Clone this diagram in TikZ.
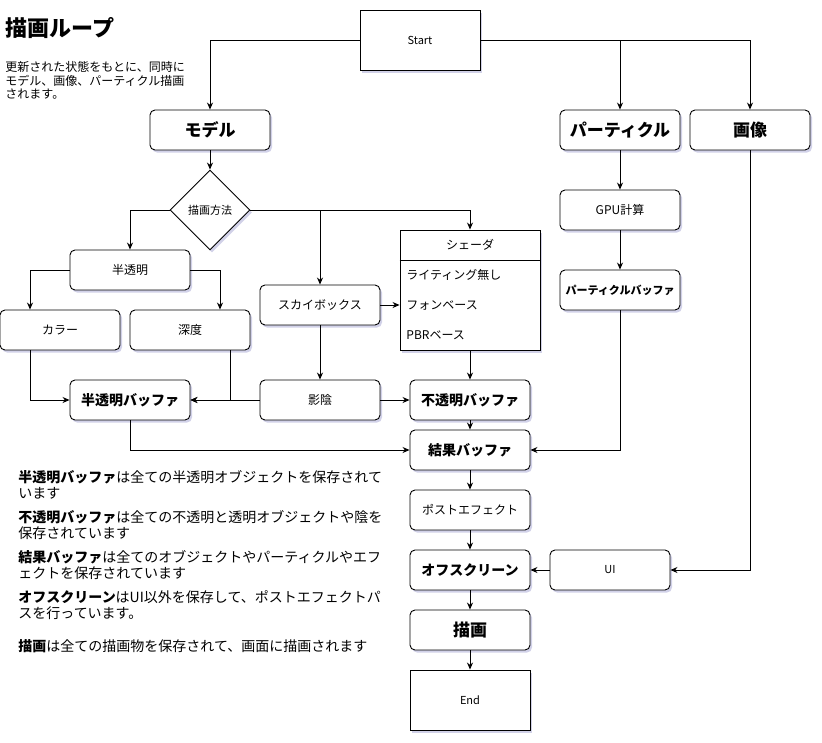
\documentclass[tikz,border=0pt]{standalone}
\usepackage{fontspec}
\setmainfont{Noto Sans CJK JP}
\usetikzlibrary{shapes.geometric,shadows,arrows.meta}

\begin{document}
\begin{tikzpicture}[
      x=1pt, y=-1pt, line width=0.9pt,
      >={Stealth[length=7pt,width=6pt]},
      shade/.style={drop shadow={opacity=0.3, fill=black!50!blue!60, shadow xshift=2pt, shadow yshift=-2.5pt}},
      box/.style={draw, rounded corners=5pt, fill=white, shade, align=center, minimum width=120pt, minimum height=40pt, inner sep=2pt, font=\fontsize{12}{14}\selectfont},
      bbox/.style={box, font=\fontsize{#1}{18}\selectfont\bfseries},
      bbox/.default=14,
      term/.style={draw, fill=white, shade, minimum width=120pt, minimum height=60pt, font=\fontsize{11}{13}\selectfont},
      item/.style={anchor=west, inner sep=0pt, font=\fontsize{12}{14}\selectfont},
      note/.style={anchor=north west, align=left, inner sep=0pt, font=\fontsize{14}{16}\selectfont}
    ]
      \useasboundingbox (0,0) rectangle (822,742);

      % title and notes
      \node[anchor=west, inner sep=0pt, font=\fontsize{22}{24}\selectfont\bfseries] (title) at (5,28) {描画ループ};
      \node[anchor=north west, align=left, inner sep=0pt, font=\fontsize{12}{13.5}\selectfont] (intro) at (5,61) {更新された状態をもとに、同時に\\モデル、画像、パーティクル描画\\されます。};

      \node[note] (n1) at (18,470) {\textbf{半透明バッファ}は全ての半透明オブジェクトを保存されて\\います};
      \node[note] (n2) at (18,510) {\textbf{不透明バッファ}は全ての不透明と透明オブジェクトや陰を\\保存されています};
      \node[note] (n3) at (18,550) {\textbf{結果バッファ}は全てのオブジェクトやパーティクルやエフ\\ェクトを保存されています};
      \node[note] (n4) at (18,590) {\textbf{オフスクリーン}はUI以外を保存して、ポストエフェクトパ\\スを行っています。};
      \node[note] (n5) at (18,639) {\textbf{描画}は全ての描画物を保存されて、画面に描画されます};

      % nodes
      \node[term] (start) at (420,40) {Start};
      \node[bbox=17] (model) at (210,130) {モデル};
      \node[bbox=17] (ptc) at (620,130) {パーティクル};
      \node[bbox=17] (img) at (750,130) {画像};

      \node[draw, diamond, fill=white, shade, minimum width=80pt, minimum height=80pt, inner sep=0pt, font=\fontsize{11}{13}\selectfont] (meth) at (210,210) {描画方法};
      \node[box] (semi) at (130,270) {半透明};
      \node[box] (color) at (60,330) {カラー};
      \node[box] (depth) at (190,330) {深度};
      \node[box] (sky) at (320,305) {スカイボックス};
      \node[box] (shadow) at (320,400) {影陰};
      \node[bbox] (tbuf) at (130,400) {半透明バッファ};

      \node[draw, fill=white, shade, minimum width=140pt, minimum height=120pt] (shader) at (470,290) {};
      \node[font=\fontsize{12}{14}\selectfont] (shhead) at (470,245) {シェーダ};
      \draw (shader.west |- 0,260) -- (shader.east |- 0,260);
      \node[item] (sh1) at (406,275) {ライティング無し};
      \node[item] (sh2) at (406,305) {フォンベース};
      \node[item] (sh3) at (406,335) {PBRベース};

      \node[bbox] (obuf) at (470,400) {不透明バッファ};
      \node[bbox] (res) at (470,450) {結果バッファ};
      \node[box] (post) at (470,510) {ポストエフェクト};
      \node[bbox] (off) at (470,570) {オフスクリーン};
      \node[bbox=17] (draw) at (470,630) {描画};
      \node[term] (end) at (470,700) {End};

      \node[box] (gpu) at (620,210) {GPU計算};
      \node[bbox=11] (pbuf) at (620,290) {パーティクルバッファ};
      \node[box, font=\fontsize{11}{13}\selectfont] (ui) at (610,570) {UI};

      % connectors
      \draw[->] (start.west) -| (model.north);
      \draw[->] (start.east) -| (img.north);
      \draw[->] (start.east -| ptc.north) -- (ptc.north);
      \draw[->] (model) -- (meth);
      \draw[->] (meth.west) -| (semi.north);
      \draw[->] (meth.east) -| (shader.north);
      \draw[->] (meth.east -| sky.north) -- (sky.north);
      \draw[->] (semi.west) -| ([xshift=-30pt]color.north);
      \draw[->] (semi.east) -| ([xshift=30pt]depth.north);
      \draw[->] ([xshift=-30pt]color.south) |- (tbuf.west);
      \draw[->] ([xshift=40pt]depth.south) |- (tbuf.east);
      \draw[->] (shadow.west) -- (tbuf.east);
      \draw[->] (sky) -- (sky -| shader.west);
      \draw[->] (sky) -- (shadow);
      \draw[->] (shadow) -- (obuf);
      \draw[->] (shader) -- (obuf);
      \draw[->] (obuf) -- (res);
      \draw[->] (tbuf.south) |- (res.west);
      \draw[->] (ptc) -- (gpu);
      \draw[->] (gpu) -- (pbuf);
      \draw[->] (pbuf.south) |- (res.east);
      \draw[->] (res) -- (post);
      \draw[->] (post) -- (off);
      \draw[->] (img.south) |- (ui.east);
      \draw[->] (ui) -- (off);
      \draw[->] (off) -- (draw);
      \draw[->] (draw) -- (end);
    \end{tikzpicture}
\end{document}
